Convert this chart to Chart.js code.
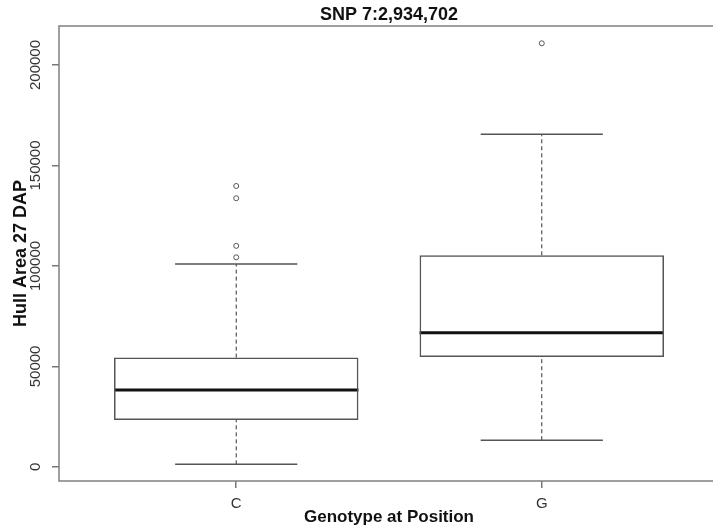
<!DOCTYPE html>
<html>
<head>
<meta charset="utf-8">
<script src="https://cdn.jsdelivr.net/npm/chart.js@4"></script>
<style>
  html, body { margin: 0; padding: 0; background: #fff; overflow: hidden; width: 713px; height: 529px; }
  canvas { display: block; }
</style>
</head>
<body>
<canvas id="boxChart" width="724" height="529"></canvas>
<script>
// values
var genotypes = ['C', 'G'];
var lowerWhisker = [1300, 13300];
var q1 = [23400, 54700];
var median = [38300, 66800];
var q3 = [54400, 105300];
var upperWhisker = [101000, 165500];
var outliers = [[104300, 110000, 133700, 139800], [210800]];
var yTicks = [0, 50000, 100000, 150000, 200000];

var mainTitle = 'SNP 7:2,934,702';
var xTitle = 'Genotype at Position';
var yTitle = 'Hull Area 27 DAP';

var FONT = '"Liberation Sans", Arial, Helvetica, sans-serif';

// build segments (null point breaks the line)
function segs(fn) {
    var out = [];
    genotypes.forEach(function (g, i) {
        fn(i + 1, i).forEach(function (p) { out.push(p); });
        out.push({ x: i + 1.5, y: null });
    });
    return out;
}

var boxData = genotypes.map(function (g, i) { return { x: i + 1, y: [q1[i], q3[i]] }; });
var medianData = segs(function (x, i) { return [{ x: x - 0.4, y: median[i] }, { x: x + 0.4, y: median[i] }]; });
var capData = segs(function (x, i) {
    return [{ x: x - 0.2, y: upperWhisker[i] }, { x: x + 0.2, y: upperWhisker[i] }, { x: x, y: null },
            { x: x - 0.2, y: lowerWhisker[i] }, { x: x + 0.2, y: lowerWhisker[i] }];
});
var whiskerData = segs(function (x, i) {
    return [{ x: x, y: q3[i] }, { x: x, y: upperWhisker[i] }, { x: x, y: null },
            { x: x, y: lowerWhisker[i] }, { x: x, y: q1[i] }];
});
var outlierData = [];
outliers.forEach(function (list, i) {
    list.forEach(function (v) { outlierData.push({ x: i + 1, y: v }); });
});

var lineBase = { type: 'line', pointRadius: 0, spanGaps: false, fill: false, tension: 0 };

// frame, main title and rotated y tick labels
var rStyle = {
    id: 'rStyle',
    afterDraw: function (chart) {
        var ctx = chart.ctx, a = chart.chartArea, ys = chart.scales.y;
        ctx.save();
        ctx.strokeStyle = '#808080';
        ctx.lineWidth = 1.5;
        ctx.strokeRect(a.left, a.top, a.right - a.left, a.bottom - a.top);

        ctx.fillStyle = '#111';
        ctx.font = 'bold 18px ' + FONT;
        ctx.textAlign = 'center';
        ctx.textBaseline = 'middle';
        ctx.fillText(mainTitle, (a.left + a.right) / 2, 15);

        ctx.fillStyle = '#333';
        ctx.font = '15px ' + FONT;
        yTicks.forEach(function (v) {
            ctx.save();
            ctx.translate(36, ys.getPixelForValue(v));
            ctx.rotate(-Math.PI / 2);
            ctx.fillText(String(v), 0, 0);
            ctx.restore();
        });
        ctx.restore();
    }
};

var boxChart = new Chart(document.getElementById('boxChart'), {
    type: 'bar',
    data: {
        datasets: [
            {
                type: 'bar',
                data: boxData,
                backgroundColor: 'rgba(255,255,255,0)',
                borderColor: '#555',
                borderWidth: 1.5,
                borderSkipped: false,
                categoryPercentage: 1,
                barPercentage: 0.8
            },
            Object.assign({}, lineBase, { data: medianData, borderColor: '#111', borderWidth: 3 }),
            Object.assign({}, lineBase, { data: capData, borderColor: '#555', borderWidth: 1.5 }),
            Object.assign({}, lineBase, { data: whiskerData, borderColor: '#333', borderWidth: 1, borderDash: [4, 3] }),
            {
                type: 'scatter',
                data: outlierData,
                pointStyle: 'circle',
                pointRadius: 2.5,
                pointBorderWidth: 1,
                pointBorderColor: '#555',
                pointBackgroundColor: '#fff'
            }
        ]
    },
    options: {
        responsive: false,
        animation: false,
        layout: { padding: { top: 26, left: 0, right: 0, bottom: 0 } },
        plugins: { legend: { display: false }, tooltip: { enabled: false }, title: { display: false } },
        scales: {
            x: {
                type: 'linear',
                min: 0.42,
                max: 2.58,
                offset: false,
                afterBuildTicks: function (axis) { axis.ticks = genotypes.map(function (g, i) { return { value: i + 1 }; }); },
                afterFit: function (axis) { axis.height = 48; },
                ticks: {
                    autoSkip: false,
                    maxRotation: 0,
                    padding: 7,
                    color: '#333',
                    font: { family: FONT, size: 15 },
                    callback: function (v) { return genotypes[v - 1]; }
                },
                grid: { offset: false, drawOnChartArea: false, drawTicks: true, tickLength: 7, color: '#777', lineWidth: 1.5 },
                border: { display: false },
                title: { display: true, text: xTitle, color: '#111', font: { family: FONT, size: 17, weight: 'bold' }, padding: { top: 0, bottom: 1 } }
            },
            y: {
                type: 'linear',
                min: -7000,
                max: 219400,
                afterBuildTicks: function (axis) { axis.ticks = yTicks.map(function (v) { return { value: v }; }); },
                afterFit: function (axis) { axis.width = 59; },
                ticks: { display: false },
                grid: { drawOnChartArea: false, drawTicks: true, tickLength: 7, color: '#777', lineWidth: 1.5 },
                border: { display: false },
                title: { display: true, text: yTitle, color: '#111', font: { family: FONT, size: 18, weight: 'bold' }, padding: { top: 10, bottom: 0 } }
            }
        }
    },
    plugins: [rStyle]
});
</script>
</body>
</html>
